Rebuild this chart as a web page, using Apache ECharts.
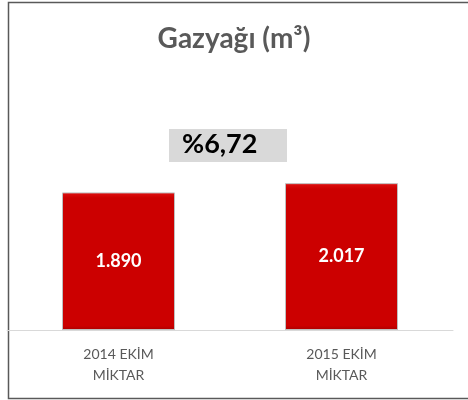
<!DOCTYPE html>
<html>
<head>
<meta charset="utf-8">
<script src="https://cdn.jsdelivr.net/npm/echarts@6/dist/echarts.min.js"></script>
<style>
  html, body { margin: 0; padding: 0; background: #fff; }
  #chart { width: 468px; height: 400px; }
</style>
</head>
<body>
<div id="chart"></div>
<script>
// veriler
const categories = ['2014 EKİM\nMİKTAR', '2015 EKİM\nMİKTAR']
const values = [1890, 2017]
const valueLabels = ['1.890', '2.017']
const changeText = '%6,72'
const titleText = 'Gazyağı (m³)'

const chart = echarts.init(document.getElementById('chart'))

const option = {
  animation: false,
  backgroundColor: '#ffffff',
  title: {
    text: titleText,
    left: 'center',
    top: 20,
    textStyle: {
      fontFamily: 'Lato',
      fontSize: 28,
      fontWeight: 'bold',
      color: '#595959'
    }
  },
  grid: { left: 7, right: 15, top: 148, bottom: 70 },
  xAxis: {
    type: 'category',
    data: categories,
    axisLine: { lineStyle: { color: '#d9d9d9', width: 1 } },
    axisTick: { show: false },
    axisLabel: {
      color: '#595959',
      fontFamily: 'Lato',
      fontSize: 14,
      lineHeight: 21,
      margin: 14
    }
  },
  yAxis: {
    type: 'value',
    min: 0,
    max: 2500,
    show: false,
    splitLine: { show: false }
  },
  series: [{
    type: 'bar',
    data: values,
    barWidth: 113,
    itemStyle: {
      color: new echarts.graphic.LinearGradient(0, 0, 0, 1, [
        { offset: 0, color: '#e01010' },
        { offset: 0.04, color: '#cc0000' },
        { offset: 0.97, color: '#cc0000' },
        { offset: 1, color: '#a80000' }
      ]),
      borderColor: '#bfbfbf',
      borderWidth: 1
    },
    label: {
      show: true,
      position: 'inside',
      formatter: p => valueLabels[p.dataIndex],
      color: '#ffffff',
      fontFamily: 'Lato',
      fontWeight: 'bold',
      fontSize: 18
    }
  }],
  graphic: [
    {
      type: 'rect',
      left: 6,
      top: 0,
      shape: { width: 470, height: 396 },
      style: { fill: 'none', stroke: '#595959', lineWidth: 1.5 },
      silent: true
    },
    {
      type: 'rect',
      left: 169,
      top: 129,
      shape: { width: 118, height: 33 },
      style: { fill: '#d9d9d9' }
    },
    {
      type: 'text',
      left: 182,
      top: 131,
      style: {
        text: changeText,
        fill: '#000000',
        font: 'bold 27px Lato'
      }
    }
  ]
}

chart.setOption(option)
</script>
</body>
</html>
